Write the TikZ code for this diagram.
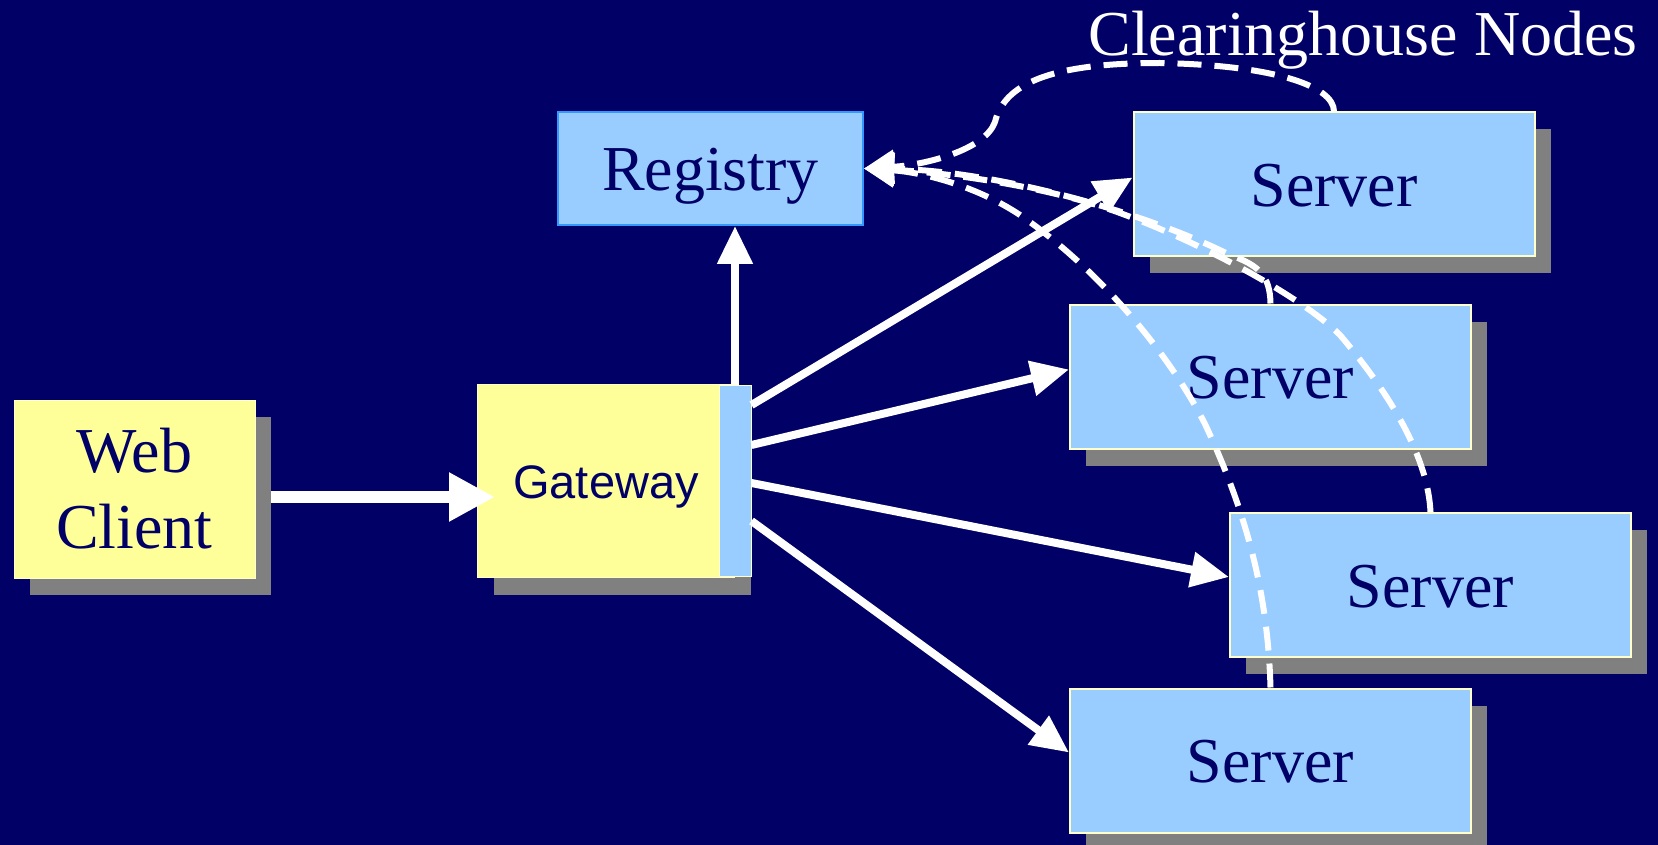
\documentclass[tikz,border=0pt]{standalone}
\usepackage{fontspec}
\setmainfont{Liberation Serif}
\newfontfamily\arialfont{Liberation Sans}
\usetikzlibrary{arrows.meta,shadows,calc}
\definecolor{navy}{RGB}{0,0,102}
\definecolor{lblue}{RGB}{153,204,255}
\definecolor{lyellow}{RGB}{255,255,153}
\definecolor{paleborder}{RGB}{255,255,204}
\definecolor{regblue}{RGB}{51,153,255}
\definecolor{shadowgray}{RGB}{128,128,128}
\tikzset{
  bigfont/.style={font=\fontsize{64pt}{76pt}\selectfont},
  shad/.style={drop shadow={shadow xshift=16pt, shadow yshift=-17pt, fill=shadowgray, opacity=1}},
  server/.style={rectangle, fill=lblue, draw=paleborder, line width=2pt, minimum width=401pt,
    minimum height=144pt, inner sep=0pt, text=navy, bigfont, text height=44pt, text depth=0pt, shad},
  registry/.style={rectangle, fill=lblue, draw=regblue, line width=2pt, minimum width=305pt,
    minimum height=113pt, inner sep=0pt, text=navy, bigfont, text height=44pt, text depth=0pt},
  ybox/.style={rectangle, fill=lyellow, draw=paleborder, line width=1pt, inner sep=0pt, text=navy, shad},
  strip/.style={rectangle, fill=lblue, draw=paleborder, line width=1pt, inner sep=0pt,
    minimum width=32pt, minimum height=191pt},
  bigarrow/.style={draw=white, line width=12pt, -{Triangle[length=46pt,width=46pt]}},
  garrow/.style={draw=white, line width=8pt, -{Triangle[length=38pt,width=34pt]}},
  dline/.style={draw=white, line width=6pt, dash pattern=on 24pt off 13pt,
    -{Triangle[length=30pt,width=33pt]}}
}
\begin{document}
\begin{tikzpicture}[x=1pt,y=-1pt]
\fill[navy] (0,0) rectangle (1658,845);
\useasboundingbox (0,0) rectangle (1658,845);

\node[text=white, bigfont, anchor=base] (title) at (1363,56) {Clearinghouse Nodes};

\node[registry] (reg) at (710.5,168.5) {Registry};
\node[server] (s1) at (1334,184.5) {Server};
\node[server] (s2) at (1270.5,376.5) {Server};
\node[server] (s3) at (1430.5,585) {Server};
\node[server] (s4) at (1270.5,760.5) {Server};

\node[ybox, minimum width=241pt, minimum height=178pt, align=center, bigfont] (wc) at (134.5,489) {\raisebox{-4pt}{Web}\\\raisebox{-4pt}{Client}};
\node[ybox, minimum width=257pt, minimum height=193pt, font=\arialfont\fontsize{47pt}{56pt}\selectfont,
  text height=34pt, text depth=0pt] (gw) at (606,481) {Gateway};
\node[strip] (gs) at (735,481) {};

\draw[bigarrow] ([shift={(15,8)}]wc.east) -- ([shift={(18,16)}]gw.west);
\draw[garrow] (gs.north) -- (gs.north |- reg.south);
\draw[garrow] ([shift={(0,-76)}]gs.east) -- ([shift={(0,-7)}]s1.west);
\draw[garrow] ([shift={(0,-36)}]gs.east) -- ([shift={(0,-7)}]s2.west);
\draw[garrow] ([shift={(0,2)}]gs.east) -- ([shift={(0,-8)}]s3.west);
\draw[garrow] ([shift={(0,40)}]gs.east) -- ([shift={(0,-8)}]s4.west);

\draw[dline] (s1.north) .. controls (1334,85) and (1270,65) .. (1160,63)
  .. controls (1060,63) and (1005,80) .. (995,122)
  .. controls (985,150) and (925,165) .. (reg.east);
\draw[dline] (s2.north) .. controls (1270,275) and (1258,265) .. (1230,255)
  .. controls (1140,210) and (990,170) .. (reg.east);
\draw[dline] (s3.north) .. controls (1428,460) and (1395,400) .. (1340,335)
  .. controls (1300,295) and (1190,236) .. (1100,206)
  .. controls (1030,184) and (940,172) .. (reg.east);
\draw[dline] (s4.north) .. controls (1268,600) and (1250,520) .. (1205,424)
  .. controls (1170,355) and (1100,270) .. (1020,215)
  .. controls (975,185) and (920,172) .. (reg.east);
\end{tikzpicture}
\end{document}
